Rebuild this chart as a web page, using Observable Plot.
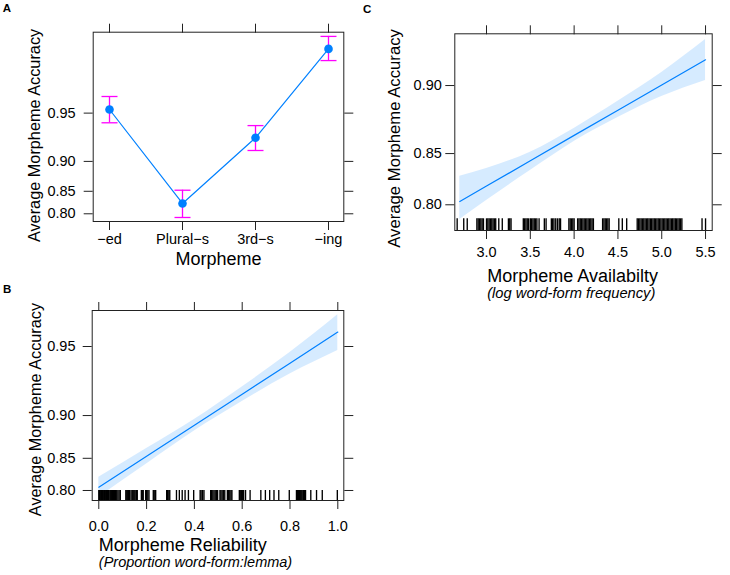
<!DOCTYPE html>
<html><head><meta charset="utf-8">
<script src="https://cdn.jsdelivr.net/npm/d3@7"></script>
<script src="https://cdn.jsdelivr.net/npm/@observablehq/plot@0.6"></script>
<style>
html,body{margin:0;padding:0;background:#fff;}
#fig{position:relative;width:730px;height:575px;overflow:hidden;background:#fff;font-family:"Liberation Sans",Arial,Helvetica,sans-serif;}
.panel{position:absolute;}
.letter{position:absolute;font-weight:bold;font-size:11.5px;line-height:1;color:#000;}
</style></head><body>
<div id="fig"></div>
<script>
// ---------- Panel A: accuracy by morpheme ----------
const morphemes = ["\u2212ed", "Plural\u2212s", "3rd\u2212s", "\u2212ing"];
const morphAcc   = [0.9526, 0.8244, 0.9284, 0.9809];
const morphLower = [0.9424, 0.7907, 0.9142, 0.9772];
const morphUpper = [0.9609, 0.8521, 0.9400, 0.9842];
const accTicksA  = [0.80, 0.85, 0.90, 0.95];

// ---------- Panel B: morpheme reliability ----------
const relX     = [0, 0.2, 0.4, 0.6, 0.8, 1.0];
const relFit   = [0.8057, 0.8529, 0.8902, 0.9190, 0.9407, 0.9569];
const relLower = [0.7881, 0.8420, 0.8839, 0.9129, 0.9338, 0.9479];
const relUpper = [0.8220, 0.8630, 0.8961, 0.9246, 0.9468, 0.9640];
const relRug = [0, 0.003, 0.006, 0.009, 0.012, 0.015, 0.018, 0.021, 0.024, 0.027, 0.03, 0.033, 0.036, 0.04,
  0.043, 0.047, 0.05, 0.054, 0.057, 0.061, 0.065, 0.07, 0.075, 0.08, 0.085, 0.09,
  0.113, 0.117, 0.121, 0.125, 0.129, 0.135, 0.14, 0.144, 0.148, 0.152, 0.157, 0.161,
  0.178, 0.182, 0.186, 0.196, 0.2, 0.205, 0.21, 0.228, 0.232, 0.238,
  0.284, 0.288, 0.293, 0.297, 0.325, 0.337, 0.349, 0.361, 0.375, 0.397,
  0.424, 0.428, 0.434, 0.44, 0.468, 0.472, 0.477, 0.482, 0.487, 0.492, 0.497,
  0.507, 0.511, 0.516, 0.521, 0.527, 0.538, 0.543, 0.548, 0.553, 0.557,
  0.588, 0.592, 0.597, 0.601, 0.606, 0.614, 0.633, 0.678, 0.697, 0.715, 0.733, 0.753, 0.797,
  0.827, 0.831, 0.835, 0.839, 0.843, 0.847, 0.851, 0.856, 0.861, 0.865, 0.887, 0.911, 0.935, 0.998];
const relTicks  = [0, 0.2, 0.4, 0.6, 0.8, 1.0];
const accTicksB = [0.80, 0.85, 0.90, 0.95];

// ---------- Panel C: morpheme availability ----------
const availX     = [2.695, 3.0, 3.5, 4.0, 4.5, 5.0, 5.5];
const availFit   = [0.8035, 0.8196, 0.8436, 0.8651, 0.8838, 0.9003, 0.9147];
const availLower = [0.7835, 0.8047, 0.8347, 0.8602, 0.8787, 0.8931, 0.9031];
const availUpper = [0.8293, 0.8366, 0.8512, 0.8705, 0.8899, 0.9077, 0.9248];
const availRug = [2.665, 2.74, 2.78, 2.89, 2.905, 2.92, 2.935, 2.95, 2.965,
  3.0, 3.015, 3.03, 3.045, 3.06, 3.075, 3.09, 3.105, 3.14, 3.18, 3.25, 3.265, 3.28,
  3.42, 3.435, 3.45, 3.465, 3.48, 3.5, 3.515, 3.53, 3.545, 3.56, 3.575, 3.6,
  3.66, 3.68, 3.74, 3.755, 3.77, 3.79, 3.81, 3.83, 3.845,
  3.94, 3.955, 3.97, 3.985, 4.0, 4.04, 4.055, 4.07, 4.085, 4.1, 4.115, 4.13, 4.145, 4.16, 4.175, 4.19, 4.205, 4.22,
  4.325, 4.34, 4.355, 4.37, 4.385, 4.40, 4.51, 4.55, 4.60,
  4.72, 4.735, 4.75, 4.765, 4.78, 4.795, 4.81, 4.825, 4.84, 4.855, 4.87, 4.885, 4.9, 4.915, 4.93, 4.945,
  4.96, 4.975, 4.99, 5.005, 5.02, 5.035, 5.05, 5.065, 5.08, 5.095, 5.11, 5.125, 5.14, 5.155, 5.17, 5.185,
  5.2, 5.215, 5.23, 5.46, 5.5];
const availTicks = [3.0, 3.5, 4.0, 4.5, 5.0, 5.5];
const accTicksC  = [0.80, 0.85, 0.90];

const yTitle = "Average Morpheme Accuracy";

// ---------- helpers ----------
const logit = p => Math.log(p / (1 - p));
const BLUE = "#0080ff", MAGENTA = "#ff00ff", INK = "#222";
const fmt2 = d3.format(".2f"), fmt1 = d3.format(".1f");
const FONT = "'Liberation Sans', Arial, Helvetica, sans-serif";
const capSymbol = {draw(ctx, size) { const w = Math.sqrt(size / Math.PI); ctx.moveTo(-w, 0); ctx.lineTo(w, 0); }};

function yAxes(ticks, pad) {
  return [
    Plot.axisY(ticks.map(logit), {anchor: "left", tickSize: 9, tickPadding: pad, label: null, stroke: INK,
      tickFormat: (v, i) => fmt2(ticks[i])}),
    Plot.axisY(ticks.map(logit), {anchor: "right", tickSize: 9, label: null, stroke: INK, tickFormat: () => ""})
  ];
}
function yTitleMark(dx, dy, size) {
  return Plot.text([yTitle], {text: d => d, frameAnchor: "left", rotate: -90, textAnchor: "middle",
    lineAnchor: "middle", dx, dy, fontSize: size});
}
function place(svg, left, top) {
  svg.classList.add("panel");
  svg.style.left = left + "px"; svg.style.top = top + "px";
  document.getElementById("fig").appendChild(svg);
}
function letter(t, left, top) {
  const d = document.createElement("div"); d.className = "letter"; d.textContent = t;
  d.style.left = left + "px"; d.style.top = top + "px";
  document.getElementById("fig").appendChild(d);
}
const baseStyle = {fontFamily: FONT, fontSize: "14.5px", color: "#000", background: "transparent", overflow: "visible"};

// ---------- Panel A ----------
const rowsA = morphemes.map((m, i) => ({m, acc: morphAcc[i], lo: morphLower[i], hi: morphUpper[i]}));
const plotA = Plot.plot({
  width: 360, height: 275,
  marginLeft: 92.7, marginRight: 16.7, marginTop: 31.7, marginBottom: 54,
  style: baseStyle,
  x: {type: "point", domain: morphemes, padding: 0.204},
  y: {type: "linear", domain: [1.267, 4.197]},
  marks: [
    Plot.line(rowsA, {x: "m", y: d => logit(d.acc), stroke: BLUE, strokeWidth: 1.2}),
    Plot.ruleX(rowsA, {x: "m", y1: d => logit(d.lo), y2: d => logit(d.hi), stroke: MAGENTA, strokeWidth: 1.3}),
    Plot.dot(rowsA, {x: "m", y: d => logit(d.lo), symbol: capSymbol, r: 8, stroke: MAGENTA, strokeWidth: 1.3, fill: "none"}),
    Plot.dot(rowsA, {x: "m", y: d => logit(d.hi), symbol: capSymbol, r: 8, stroke: MAGENTA, strokeWidth: 1.3, fill: "none"}),
    Plot.dot(rowsA, {x: "m", y: d => logit(d.acc), r: 4.3, fill: BLUE, stroke: "none"}),
    Plot.frame({stroke: INK}),
    Plot.axisX(morphemes, {anchor: "bottom", tickSize: 9, tickPadding: 3.3, label: null, stroke: INK}),
    Plot.axisX(morphemes, {anchor: "top", tickSize: 9, label: null, stroke: INK, tickFormat: () => ""}),
    ...yAxes(accTicksA, 8.5),
    Plot.text(["Morpheme"], {text: d => d, frameAnchor: "bottom", lineAnchor: "bottom", dy: 43.3, fontSize: 18}),
    yTitleMark(-58.7, 8.6, 16.3)
  ]
});
place(plotA, 0, 0);

// ---------- Panel B ----------
const rowsB = relX.map((x, i) => ({x, fit: relFit[i], lo: relLower[i], hi: relUpper[i]}));
const plotB = Plot.plot({
  width: 360, height: 300,
  marginLeft: 91.7, marginRight: 16.7, marginTop: 35, marginBottom: 75,
  style: baseStyle,
  x: {type: "linear", domain: [-0.0276, 1.0251]},
  y: {type: "linear", domain: [1.278, 3.334]},
  marks: [
    Plot.areaY(rowsB, {x: "x", y1: d => logit(d.lo), y2: d => logit(d.hi), fill: BLUE, fillOpacity: 0.16, curve: "monotone-x"}),
    Plot.line(rowsB, {x: "x", y: d => logit(d.fit), stroke: BLUE, strokeWidth: 1.2}),
    Plot.ruleX(relRug, {x: d => d, insetTop: 180, stroke: "#000", strokeWidth: 1.35}),
    Plot.frame({stroke: INK}),
    Plot.axisX(relTicks, {anchor: "bottom", tickSize: 9, tickPadding: 11, label: null, stroke: INK, tickFormat: fmt1}),
    Plot.axisX(relTicks, {anchor: "top", tickSize: 9, label: null, stroke: INK, tickFormat: () => ""}),
    ...yAxes(accTicksB, 7.7),
    Plot.text(["Morpheme Reliability"], {text: d => d, frameAnchor: "bottom-left", textAnchor: "start", lineAnchor: "bottom", dx: 6.6, dy: 50.5, fontSize: 18}),
    Plot.text(["(Proportion word-form:lemma)"], {text: d => d, frameAnchor: "bottom-left", textAnchor: "start", lineAnchor: "bottom", dx: 6.6, dy: 66, fontSize: 14.5, fontStyle: "italic"}),
    yTitleMark(-56.2, 4, 16.3)
  ]
});
place(plotB, 0, 275);

// ---------- Panel C ----------
const rowsC = availX.map((x, i) => ({x, fit: availFit[i], lo: availLower[i], hi: availUpper[i]}));
const plotC = Plot.plot({
  width: 360, height: 310,
  marginLeft: 84.3, marginRight: 18.3, marginTop: 33.3, marginBottom: 80,
  style: baseStyle,
  x: {type: "linear", domain: [2.638, 5.576]},
  y: {type: "linear", domain: [1.2115, 2.549]},
  marks: [
    Plot.areaY(rowsC, {x: "x", y1: d => logit(d.lo), y2: d => logit(d.hi), fill: BLUE, fillOpacity: 0.16, curve: "monotone-x"}),
    Plot.line(rowsC, {x: "x", y: d => logit(d.fit), stroke: BLUE, strokeWidth: 1.2}),
    Plot.ruleX(availRug, {x: d => d, insetTop: 185, stroke: "#000", strokeWidth: 1.35}),
    Plot.frame({stroke: INK}),
    Plot.axisX(availTicks, {anchor: "bottom", tickSize: 9, tickPadding: 7.7, label: null, stroke: INK, tickFormat: fmt1}),
    Plot.axisX(availTicks, {anchor: "top", tickSize: 9, label: null, stroke: INK, tickFormat: () => ""}),
    ...yAxes(accTicksC, 4),
    Plot.text(["Morpheme Availabilty"], {text: d => d, frameAnchor: "bottom-left", textAnchor: "start", lineAnchor: "bottom", dx: 32.4, dy: 51.7, fontSize: 18}),
    Plot.text(["(log word-form frequency)"], {text: d => d, frameAnchor: "bottom-left", textAnchor: "start", lineAnchor: "bottom", dx: 32.4, dy: 67.5, fontSize: 14.7, fontStyle: "italic"}),
    yTitleMark(-60.3, 6.3, 16.7)
  ]
});
place(plotC, 370, 0);

letter("A", 2.7, 2.5);
letter("B", 3, 283.5);
letter("C", 363, 3.5);
</script>
</body></html>
